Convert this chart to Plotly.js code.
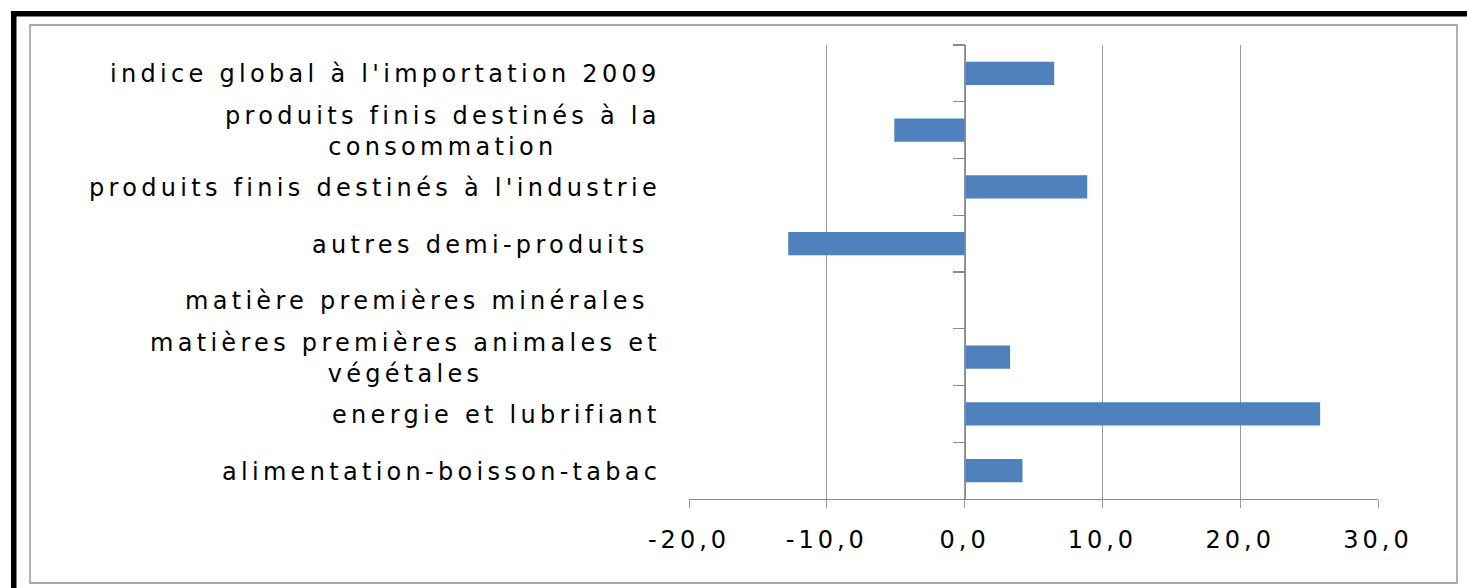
<!DOCTYPE html>
<html>
<head>
<meta charset="utf-8">
<script src="https://cdn.plot.ly/plotly-3.0.1.min.js"></script>
<style>
  html, body { margin: 0; padding: 0; background: #fff; }
  #chart { width: 1467px; height: 588px; }
  .annotation-text { letter-spacing: 4.3px; }
  .xtick text { letter-spacing: 4px; }
</style>
</head>
<body>
<div id="chart"></div>
<script>
// Categories, top to bottom as in the reference
const categories = [
  "indice global à l'importation 2009",
  "produits finis destinés à la<br>consommation",
  "produits finis destinés à l'industrie",
  "autres demi-produits ",
  "matière premières minérales ",
  "matières premières animales et<br>végétales",
  "energie et lubrifiant",
  "alimentation-boisson-tabac"
];
const values = [6.5, -5.1, 8.9, -12.8, 0, 3.3, 25.8, 4.2];
const xTickValues = [-20, -10, 0, 10, 20, 30];
const xTickLabels = ["-20,0", "-10,0", "0,0", "10,0", "20,0", "30,0"];

// Layout geometry (pixels)
const W = 1467, H = 588;
const mL = 689, mR = 89, mT = 45, mB = 89;
const pw = W - mL - mR, ph = H - mT - mB;
const px = v => (v - mL) / pw;
const py = v => 1 - (v - mT) / ph;

const xMin = -20, xMax = 30;
const zeroPos = (0 - xMin) / (xMax - xMin);
const yRange = [categories.length - 0.5, -0.5];

const FONT = 'DejaVu Sans, Verdana, sans-serif';

const trace = {
  type: 'bar',
  orientation: 'h',
  x: values,
  y: categories,
  marker: { color: '#4F81BD', line: { width: 0 } },
  hoverinfo: 'x+y'
};

const annotations = categories.map(c => ({
  xref: 'paper', yref: 'y',
  x: 0, y: c,
  xanchor: 'right', yanchor: 'middle',
  xshift: -26,
  yshift: -1,
  align: 'center',
  text: c,
  showarrow: false,
  font: { family: FONT, size: 24, color: '#000' }
}));

const shapes = [
  // outer chart border (gray)
  { type: 'rect', xref: 'paper', yref: 'paper', x0: px(30), x1: px(1457), y0: py(25), y1: py(583),
    line: { color: '#8a8a8a', width: 1.3 }, fillcolor: 'rgba(0,0,0,0)', layer: 'below' },
  // black frame - top
  { type: 'rect', xref: 'paper', yref: 'paper', x0: px(11), x1: px(1467), y0: py(11), y1: py(16.5),
    line: { width: 0 }, fillcolor: '#000' },
  // black frame - left
  { type: 'rect', xref: 'paper', yref: 'paper', x0: px(11), x1: px(16.5), y0: py(11), y1: py(588),
    line: { width: 0 }, fillcolor: '#000' }
];

const layout = {
  width: W, height: H,
  margin: { l: mL, r: mR, t: mT, b: mB, pad: 0 },
  paper_bgcolor: '#fff',
  plot_bgcolor: '#fff',
  showlegend: false,
  bargap: 0.59,
  xaxis: {
    range: [xMin, xMax],
    tickvals: xTickValues,
    ticktext: xTickLabels,
    showgrid: true,
    gridcolor: '#9a9a9a',
    gridwidth: 1,
    zeroline: false,
    showline: true,
    linecolor: '#8a8a8a',
    linewidth: 1.3,
    ticks: 'outside',
    ticklen: 8,
    tickcolor: '#9a9a9a',
    tickfont: { family: FONT, size: 24, color: '#000' },
    ticklabelstandoff: 11,
    fixedrange: true
  },
  yaxis: {
    type: 'category',
    categoryorder: 'array',
    categoryarray: categories,
    range: yRange,
    showticklabels: false,
    showgrid: false,
    zeroline: false,
    showline: false,
    ticks: '',
    fixedrange: true
  },
  yaxis2: {
    type: 'category',
    categoryorder: 'array',
    categoryarray: categories,
    overlaying: 'y',
    anchor: 'free',
    position: zeroPos,
    side: 'left',
    range: yRange,
    showticklabels: false,
    showgrid: false,
    zeroline: false,
    showline: true,
    linecolor: '#8a8a8a',
    linewidth: 1.3,
    ticks: 'outside',
    ticklen: 12,
    tickcolor: '#8a8a8a',
    tickwidth: 1.3,
    tickson: 'boundaries',
    fixedrange: true
  },
  annotations: annotations,
  shapes: shapes
};

const axisTrace = {
  type: 'bar', orientation: 'h',
  x: values, y: categories, yaxis: 'y2',
  marker: { color: 'rgba(0,0,0,0)' }, hoverinfo: 'skip'
};

Plotly.newPlot('chart', [trace, axisTrace], layout, { displayModeBar: false, staticPlot: true });
</script>
</body>
</html>
